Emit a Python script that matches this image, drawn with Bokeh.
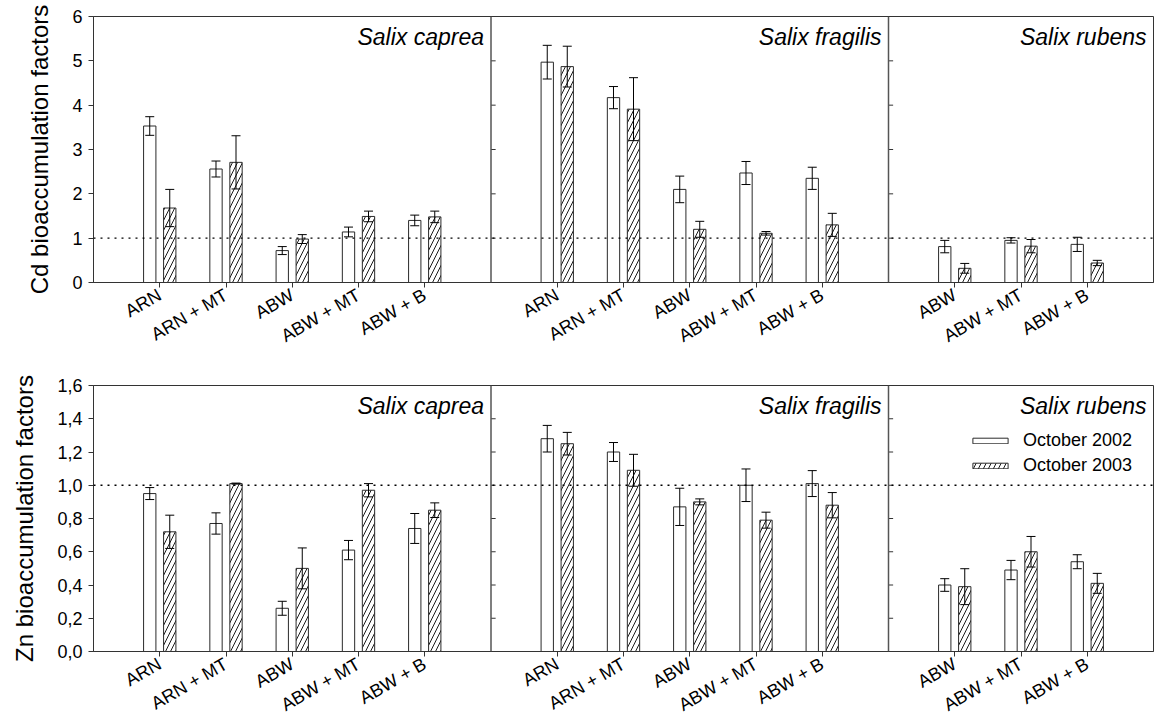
import math
from bokeh.plotting import figure
from bokeh.models import (Range1d, FixedTicker, Span, Whisker, TeeHead, ColumnDataSource,
                          Legend, LegendItem)
from bokeh.layouts import column
from bokeh.embed import file_html
from bokeh.resources import INLINE
from bokeh.core.properties import value

# ---------------- data ----------------
species = ["Salix caprea", "Salix fragilis", "Salix rubens"]
cats_caprea = ["ARN", "ARN + MT", "ABW", "ABW + MT", "ABW + B"]
cats_fragilis = ["ARN", "ARN + MT", "ABW", "ABW + MT", "ABW + B"]
cats_rubens = ["ABW", "ABW + MT", "ABW + B"]
series_names = ["October 2002", "October 2003"]

cd_caprea_2002 = [3.53, 2.56, 0.72, 1.14, 1.40]
cd_caprea_2002_err = [0.21, 0.18, 0.09, 0.11, 0.12]
cd_caprea_2003 = [1.68, 2.71, 0.98, 1.49, 1.48]
cd_caprea_2003_err = [0.42, 0.60, 0.10, 0.12, 0.13]
cd_fragilis_2002 = [4.97, 4.17, 2.10, 2.47, 2.35]
cd_fragilis_2002_err = [0.38, 0.25, 0.30, 0.26, 0.25]
cd_fragilis_2003 = [4.87, 3.91, 1.20, 1.11, 1.30]
cd_fragilis_2003_err = [0.46, 0.71, 0.18, 0.04, 0.26]
cd_rubens_2002 = [0.81, 0.95, 0.86]
cd_rubens_2002_err = [0.14, 0.06, 0.16]
cd_rubens_2003 = [0.32, 0.82, 0.44]
cd_rubens_2003_err = [0.11, 0.15, 0.06]

zn_caprea_2002 = [0.95, 0.77, 0.26, 0.61, 0.74]
zn_caprea_2002_err = [0.036, 0.064, 0.042, 0.058, 0.09]
zn_caprea_2003 = [0.72, 1.01, 0.50, 0.97, 0.85]
zn_caprea_2003_err = [0.10, 0.003, 0.123, 0.04, 0.044]
zn_fragilis_2002 = [1.28, 1.20, 0.87, 1.00, 1.01]
zn_fragilis_2002_err = [0.08, 0.057, 0.112, 0.098, 0.078]
zn_fragilis_2003 = [1.25, 1.09, 0.90, 0.79, 0.88]
zn_fragilis_2003_err = [0.068, 0.096, 0.018, 0.048, 0.076]
zn_rubens_2002 = [0.40, 0.49, 0.54]
zn_rubens_2002_err = [0.038, 0.058, 0.042]
zn_rubens_2003 = [0.39, 0.60, 0.41]
zn_rubens_2003_err = [0.108, 0.092, 0.06]

cd_ticks = [0, 1, 2, 3, 4, 5, 6]
cd_tick_labels = ["0", "1", "2", "3", "4", "5", "6"]
zn_ticks = [0.0, 0.2, 0.4, 0.6, 0.8, 1.0, 1.2, 1.4, 1.6]
zn_tick_labels = ["0,0", "0,2", "0,4", "0,6", "0,8", "1,0", "1,2", "1,4", "1,6"]
reference_level = 1.0

# ---------------- layout helpers ----------------
FONT = "Liberation Sans"
AX = "#333333"
cats = [cats_caprea, cats_fragilis, cats_rubens]
panel_slots = [len(c) + 1 for c in cats]           # 6, 6, 4
panel_start = [0, panel_slots[0], panel_slots[0] + panel_slots[1]]
total = sum(panel_slots)
positions = []
labels = []
for s, c in zip(panel_start, cats):
    for i, name in enumerate(c):
        positions.append(s + 1 + i)
        labels.append(name)

BAR_W = 0.186
OFF = 0.151


def make_panel(vals02, err02, vals03, err03, ymax, ticks, tick_labels, ylabel,
               top_border, bottom_border, legend=False):
    p = figure(frame_width=1060, frame_height=266, min_border_left=93,
               min_border_right=4, min_border_top=top_border,
               min_border_bottom=bottom_border,
               x_range=Range1d(0, total), y_range=Range1d(0, ymax),
               output_backend="svg", toolbar_location=None)
    p.grid.visible = False
    p.outline_line_color = AX
    p.outline_line_width = 1
    p.background_fill_color = "white"
    p.border_fill_color = "white"

    # axes
    p.xaxis.ticker = FixedTicker(ticks=positions)
    p.xaxis.major_label_overrides = {pos: lab for pos, lab in zip(positions, labels)}
    p.xaxis.major_label_orientation = math.radians(30)
    p.yaxis.ticker = FixedTicker(ticks=ticks)
    p.yaxis.major_label_overrides = {t: l for t, l in zip(ticks, tick_labels)}
    for ax in (p.xaxis[0], p.yaxis[0]):
        ax.axis_line_color = AX
        ax.major_tick_line_color = AX
        ax.major_tick_out = 5
        ax.major_tick_in = 0
        ax.minor_tick_line_color = None
        ax.major_label_text_font = FONT
        ax.major_label_text_font_size = "18px"
        ax.major_label_text_color = "black"
        ax.major_label_standoff = 6
    p.yaxis.axis_label = ylabel
    p.yaxis.axis_label_text_font = FONT
    p.yaxis.axis_label_text_font_size = "24px"
    p.yaxis.axis_label_text_font_style = "normal"
    p.yaxis.axis_label_text_color = "black"
    p.yaxis.axis_label_standoff = 16

    # panel separators
    for s in panel_start[1:]:
        p.add_layout(Span(location=s, dimension="height", line_color="#555555",
                          line_width=1.5))
    # small inner ticks on separators
    sx0, sx1, sy = [], [], []
    for s in panel_start[1:]:
        for t in ticks:
            sx0.append(s)
            sx1.append(s + 0.07)
            sy.append(t)
    p.segment(x0=sx0, y0=sy, x1=sx1, y1=sy, line_color=AX, line_width=1)

    # reference line
    p.add_layout(Span(location=reference_level, dimension="width", line_color="black",
                      line_width=1.4, line_dash="2 5"))

    x02 = [x - OFF for x in positions]
    x03 = [x + OFF for x in positions]
    r1 = p.vbar(x=x02, top=vals02, width=BAR_W, bottom=0, fill_color="white",
                line_color="#2a2a2a", line_width=1)
    r2 = p.vbar(x=x03, top=vals03, width=BAR_W, bottom=0, fill_color="white",
                line_color="#2a2a2a", line_width=1, hatch_pattern="/",
                hatch_color="black", hatch_scale=10, hatch_weight=0.9)

    for xs, v, e in ((x02, vals02, err02), (x03, vals03, err03)):
        src = ColumnDataSource(dict(x=xs, upper=[a + b for a, b in zip(v, e)],
                                    lower=[a - b for a, b in zip(v, e)]))
        w = Whisker(source=src, base="x", upper="upper", lower="lower",
                    dimension="height", line_color="black", line_width=1,
                    upper_head=TeeHead(size=9, line_color="black", line_width=1),
                    lower_head=TeeHead(size=9, line_color="black", line_width=1),
                    level="annotation")
        p.add_layout(w)

    # species titles
    ends = [s + w for s, w in zip(panel_start, panel_slots)]
    p.text(x=ends, y=[ymax] * 3, text=species, text_align="right",
           text_baseline="top", x_offset=-7, y_offset=7,
           text_font=value(FONT), text_font_size="23px",
           text_font_style="italic", text_color="black")

    if legend:
        leg = Legend(items=[LegendItem(label=series_names[0], renderers=[r1]),
                            LegendItem(label=series_names[1], renderers=[r2])],
                     location=(875, 175), orientation="vertical")
        leg.glyph_width = 44
        leg.glyph_height = 7
        leg.label_standoff = 11
        leg.label_height = 20
        leg.spacing = 4
        leg.padding = 0
        leg.margin = 0
        leg.border_line_alpha = 0
        leg.background_fill_alpha = 0
        leg.label_text_font = FONT
        leg.label_text_font_size = "18px"
        leg.label_text_color = "black"
        p.add_layout(leg)
    return p


cd02 = cd_caprea_2002 + cd_fragilis_2002 + cd_rubens_2002
cd02e = cd_caprea_2002_err + cd_fragilis_2002_err + cd_rubens_2002_err
cd03 = cd_caprea_2003 + cd_fragilis_2003 + cd_rubens_2003
cd03e = cd_caprea_2003_err + cd_fragilis_2003_err + cd_rubens_2003_err
zn02 = zn_caprea_2002 + zn_fragilis_2002 + zn_rubens_2002
zn02e = zn_caprea_2002_err + zn_fragilis_2002_err + zn_rubens_2002_err
zn03 = zn_caprea_2003 + zn_fragilis_2003 + zn_rubens_2003
zn03e = zn_caprea_2003_err + zn_fragilis_2003_err + zn_rubens_2003_err

p1 = make_panel(cd02, cd02e, cd03, cd03e, cd_ticks[-1], cd_ticks, cd_tick_labels,
                "Cd bioaccumulation factors", 16, 83)
p2 = make_panel(zn02, zn02e, zn03, zn03e, zn_ticks[-1], zn_ticks, zn_tick_labels,
                "Zn bioaccumulation factors", 20, 67, legend=True)

layout = column(p1, p2, spacing=0)
open("out.html", "w").write(file_html(layout, INLINE))
